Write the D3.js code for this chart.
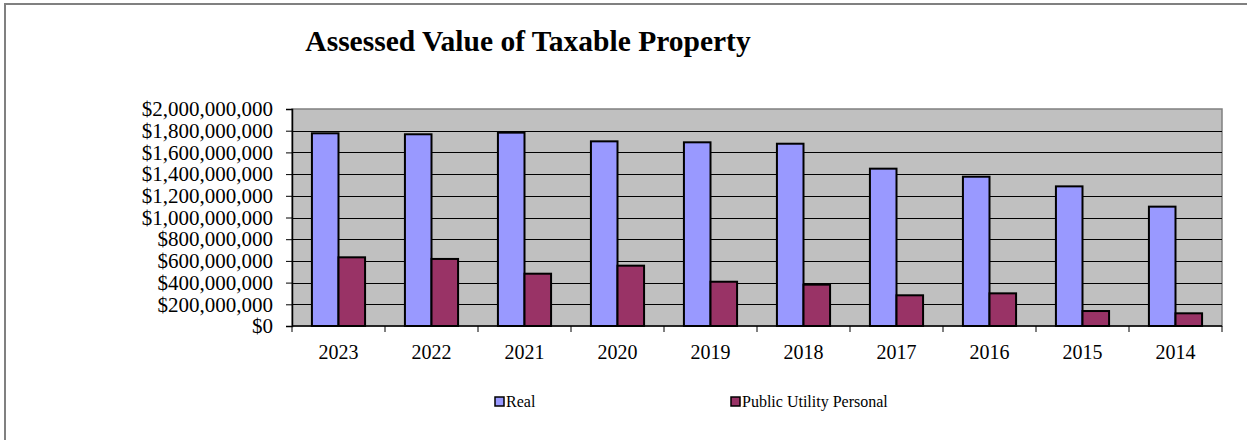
<!DOCTYPE html>
<html>
<head>
<meta charset="utf-8">
<script src="https://cdn.jsdelivr.net/npm/d3@7"></script>
<style>
  body { margin: 0; background: #fff; }
  svg { display: block; font-family: "Liberation Serif", "Times New Roman", serif; }
</style>
</head>
<body>
<div id="chart"></div>
<script>
// data
const years = ["2023", "2022", "2021", "2020", "2019", "2018", "2017", "2016", "2015", "2014"];
const realValues = [1776e6, 1767e6, 1782e6, 1702e6, 1693e6, 1680e6, 1450e6, 1376e6, 1287e6, 1100e6];
const utilityValues = [633e6, 618e6, 482e6, 556e6, 408e6, 381e6, 283e6, 301e6, 138e6, 117e6];
const seriesNames = ["Real", "Public Utility Personal"];
const seriesColors = ["#9999FF", "#993366"];
const yTicks = [0, 200e6, 400e6, 600e6, 800e6, 1000e6, 1200e6, 1400e6, 1600e6, 1800e6, 2000e6];

const width = 1247, height = 440;
const plot = { left: 292, top: 109, right: 1222, bottom: 326 };

const svg = d3.select("#chart")
    .append("svg")
    .attr("width", width)
    .attr("height", height);

// outer chart frame (runs off the right and bottom edge)
svg.append("rect")
    .attr("x", 5).attr("y", 4)
    .attr("width", 1260).attr("height", 460)
    .attr("fill", "none")
    .attr("stroke", "#808080")
    .attr("stroke-width", 2);

// title
svg.append("text")
    .attr("x", 528).attr("y", 51)
    .attr("text-anchor", "middle")
    .attr("font-size", 29.5)
    .attr("font-weight", "bold")
    .text("Assessed Value of Taxable Property");

const x0 = d3.scaleBand()
    .domain(years)
    .range([plot.left, plot.right]);

// bar width follows excel's 150% gap width
const x1 = d3.scaleBand()
    .domain([0, 1])
    .range([0, x0.bandwidth()])
    .paddingOuter(0.75)
    .paddingInner(0);

const y = d3.scaleLinear()
    .domain([0, 2000e6])
    .range([plot.bottom, plot.top]);

// plot background
svg.append("rect")
    .attr("x", plot.left).attr("y", plot.top)
    .attr("width", plot.right - plot.left)
    .attr("height", plot.bottom - plot.top)
    .attr("fill", "#C0C0C0")
    .attr("stroke", "#808080")
    .attr("stroke-width", 1.5);

// gridlines
svg.append("g")
    .selectAll("line")
    .data(yTicks.slice(1, -1))
    .enter()
    .append("line")
    .attr("x1", plot.left).attr("x2", plot.right)
    .attr("y1", d => Math.round(y(d)) + 0.5)
    .attr("y2", d => Math.round(y(d)) + 0.5)
    .attr("stroke", "#000")
    .attr("stroke-width", 1);

// bars
const rows = years.map((yr, i) => ({ year: yr, values: [realValues[i], utilityValues[i]] }));

svg.append("g")
    .selectAll("g")
    .data(rows)
    .enter()
    .append("g")
    .attr("transform", d => `translate(${x0(d.year)},0)`)
    .selectAll("rect")
    .data(d => d.values.map((v, k) => ({ k: k, v: v })))
    .enter()
    .append("rect")
    .attr("x", d => x1(d.k))
    .attr("y", d => y(d.v))
    .attr("width", x1.bandwidth())
    .attr("height", d => y(0) - y(d.v))
    .attr("fill", d => seriesColors[d.k])
    .attr("stroke", "#000")
    .attr("stroke-width", 2);

// y axis
const yAxis = svg.append("g")
    .attr("transform", `translate(${plot.left},0)`)
    .call(d3.axisLeft(y)
        .tickValues(yTicks)
        .tickSize(6)
        .tickPadding(13)
        .tickFormat(d => "$" + d3.format(",")(d)));
yAxis.select(".domain").attr("stroke", "#000").attr("stroke-width", 1.5);
yAxis.selectAll("text")
    .attr("font-size", 21)
    .attr("font-family", "Liberation Serif, serif")
    .attr("fill", "#000");

// x axis, ticks sit between categories
const xAxis = svg.append("g")
    .attr("transform", `translate(0,${plot.bottom})`);
xAxis.append("line")
    .attr("x1", plot.left).attr("x2", plot.right)
    .attr("stroke", "#000").attr("stroke-width", 1.5);
xAxis.selectAll(".tk")
    .data(years.concat(["end"]))
    .enter()
    .append("line")
    .attr("class", "tk")
    .attr("x1", (d, i) => i < years.length ? x0(d) : plot.right)
    .attr("x2", (d, i) => i < years.length ? x0(d) : plot.right)
    .attr("y1", 0).attr("y2", 6)
    .attr("stroke", "#000");
xAxis.selectAll(".lbl")
    .data(years)
    .enter()
    .append("text")
    .attr("class", "lbl")
    .attr("x", d => x0(d) + x0.bandwidth() / 2)
    .attr("y", 33)
    .attr("text-anchor", "middle")
    .attr("font-size", 20)
    .text(d => d);

// legend
const legendX = [495, 731];
const legend = svg.append("g")
    .selectAll("g")
    .data(seriesNames)
    .enter()
    .append("g")
    .attr("transform", (d, i) => `translate(${legendX[i]},397)`);
legend.append("rect")
    .attr("width", 9).attr("height", 9)
    .attr("fill", (d, i) => seriesColors[i])
    .attr("stroke", "#000")
    .attr("stroke-width", 1.5);
legend.append("text")
    .attr("x", 11).attr("y", 10)
    .attr("font-size", 16)
    .text(d => d);
</script>
</body>
</html>
